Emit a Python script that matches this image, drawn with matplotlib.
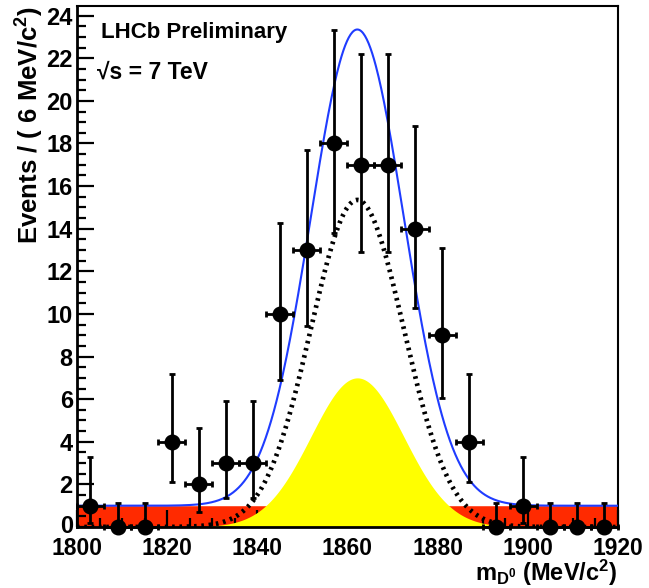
import matplotlib
matplotlib.use("Agg")
import matplotlib.pyplot as plt
from matplotlib.ticker import MultipleLocator
from matplotlib.transforms import ScaledTranslation
import numpy as np

# binned data (6 MeV bins)
bin_centers = [1803, 1809, 1815, 1821, 1827, 1833, 1839, 1845, 1851, 1857,
               1863, 1869, 1875, 1881, 1887, 1893, 1899, 1905, 1911, 1917]
counts = [1, 0, 0, 4, 2, 3, 3, 10, 13, 18, 17, 17, 14, 9, 4, 0, 1, 0, 0, 0]
err_low = [0.83, 0, 0, 1.91, 1.29, 1.63, 1.63, 3.11, 3.56, 4.20,
           4.08, 4.08, 3.70, 2.94, 1.91, 0, 0.83, 0, 0, 0]
err_high = [2.30, 1.15, 1.15, 3.16, 2.64, 2.92, 2.92, 4.26, 4.70, 5.33,
            5.21, 5.21, 4.83, 4.11, 3.16, 1.15, 2.30, 1.15, 1.15, 1.15]
half_bin = 3
y_ticks = [0, 2, 4, 6, 8, 10, 12, 14, 16, 18, 20, 22, 24]

# fit components (peak heights, mean, width)
bkg_level = 1.0
peak_mean = 1862.2
peak_width = 10.3
yellow_peak = 7.0
dotted_peak = 15.35

plt.rcParams['font.family'] = ['Liberation Sans', 'DejaVu Sans']
plt.rcParams['font.weight'] = 'bold'
plt.rcParams['mathtext.fontset'] = 'custom'
plt.rcParams['mathtext.rm'] = 'Liberation Sans:bold'
plt.rcParams['mathtext.it'] = 'Liberation Sans:bold'
plt.rcParams['mathtext.bf'] = 'Liberation Sans:bold'

fig = plt.figure(figsize=(6.49, 5.88), dpi=100)
ax = fig.add_axes([0.1186, 0.1037, 0.8334, 0.886])

x = np.linspace(1800, 1920, 600)
shape = np.exp(-0.5 * ((x - peak_mean) / peak_width) ** 2)
yellow = yellow_peak * shape
dotted = dotted_peak * shape
total = bkg_level + yellow + dotted

ax.fill_between(x, 0, bkg_level, color='#ff2a00', lw=0, zorder=1)
ax.fill_between(x, 0, yellow, color='#ffff00', lw=0, zorder=2)
ax.plot(x, dotted, color='black', lw=3.4, linestyle=(0, (0.55, 1.0)),
        dash_capstyle='butt', zorder=3)
ax.plot(x, total, color='#1f3cff', lw=1.5, zorder=4)

ax.errorbar(bin_centers, counts, yerr=[err_low, err_high], xerr=half_bin,
            fmt='o', color='black', ms=10.5, elinewidth=2, capsize=2.2,
            capthick=2, zorder=5, clip_on=False)

ax.set_xlim(1800, 1920)
ax.set_ylim(0, 24.45)
ax.xaxis.set_major_locator(MultipleLocator(20))
ax.xaxis.set_minor_locator(MultipleLocator(5))
ax.set_yticks(y_ticks)
ax.yaxis.set_minor_locator(MultipleLocator(0.5))
ax.tick_params(which='both', direction='in', top=False, right=False,
               width=1.6, labelsize=17)
ax.tick_params(which='major', length=12)
ax.tick_params(which='minor', length=6.5)
ax.tick_params(axis='x', labelsize=16.5, pad=7)
ax.tick_params(axis='y', pad=3)
for lab in ax.get_xticklabels() + ax.get_yticklabels():
    lab.set_fontweight('bold')

# nudge the "0" label up a little so it clears "1800"
zero_lab = ax.yaxis.get_major_ticks()[0].label1
zero_lab.set_transform(zero_lab.get_transform() +
                       ScaledTranslation(0, 2.5 / 72, fig.dpi_scale_trans))

for side in ['left', 'bottom']:
    ax.spines[side].set_linewidth(2.0)
for side in ['top', 'right']:
    ax.spines[side].set_linewidth(1.5)

ax.set_ylabel(r'Events / ( 6 MeV/c$^{2}$)', fontsize=18.5, fontweight='bold', loc='top')
ax.yaxis.set_label_coords(-0.058, 1.0)
ax.set_xlabel(r'm$_{\mathregular{D^0}}$ (MeV/c$^{2}$)', fontsize=17,
              fontweight='bold', loc='right')
ax.xaxis.label.set_va('bottom')
ax.xaxis.set_label_coords(1.0, -0.117)

ax.text(0.045, 0.95, 'LHCb Preliminary', transform=ax.transAxes,
        fontsize=16, fontweight='bold', va='center', ha='left')
ax.text(0.037, 0.873, '\u221as = 7 TeV', transform=ax.transAxes,
        fontsize=16.5, fontweight='bold', va='center', ha='left')

fig.savefig('out.png', dpi=100)
